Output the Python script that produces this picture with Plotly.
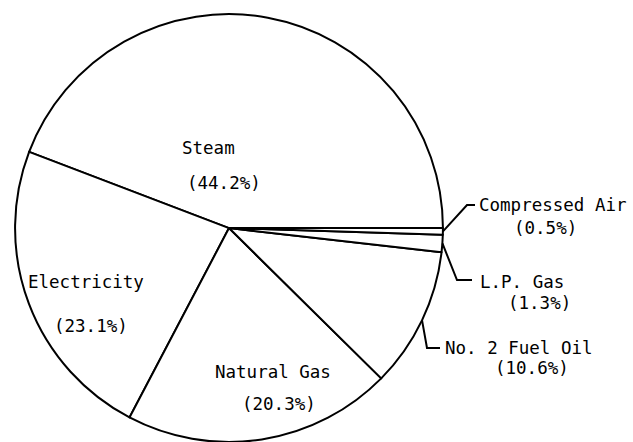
import math
import plotly.graph_objects as go

# ---- data ----
labels = ["Steam", "Electricity", "Natural Gas", "No. 2 Fuel Oil", "L.P. Gas", "Compressed Air"]
values = [44.2, 23.1, 20.3, 10.6, 1.3, 0.5]

W, H = 633, 442
FONT = dict(family="DejaVu Sans Mono", size=17.5, color="black")

total = sum(values)
# first slice (Steam) starts at 3 o'clock and runs counterclockwise
rotation = 90 - 360.0 * values[0] / total

fig = go.Figure(go.Pie(
    labels=labels,
    values=values,
    sort=False,
    direction="counterclockwise",
    rotation=rotation,
    textinfo="none",
    hoverinfo="label+percent",
    marker=dict(colors=["white"] * len(labels), line=dict(color="black", width=2)),
    domain=dict(x=[15 / W, 443 / W], y=[0, 0.968]),
    showlegend=False,
))

def px(x):
    return x / W

def py(y):
    return 1 - y / H

# label text positions (left edge, vertical centre) in pixels
label_pos = {
    "Steam": ((180, 148), (185, 183)),
    "Electricity": ((26, 282), (52, 326)),
    "Natural Gas": ((213, 372), (240, 404)),
    "Compressed Air": ((477, 205), (512, 228)),
    "L.P. Gas": ((478, 282), (506, 303)),
    "No. 2 Fuel Oil": ((443, 348), (493, 368)),
}
# leader-line knees and ends for outside labels
leaders = {
    "Compressed Air": ((467, 205), (475, 205)),
    "L.P. Gas": ((457, 280), (472, 280)),
    "No. 2 Fuel Oil": ((427, 348), (440, 348)),
}

annotations = []
for lab, val in zip(labels, values):
    (lx, ly), (vx, vy) = label_pos[lab]
    annotations.append(dict(x=px(lx), y=py(ly), xref="paper", yref="paper", text=lab,
                            showarrow=False, xanchor="left", yanchor="middle", font=FONT))
    annotations.append(dict(x=px(vx), y=py(vy), xref="paper", yref="paper", text=f"({val}%)",
                            showarrow=False, xanchor="left", yanchor="middle", font=FONT))

# leader start points derived from slice mid-angles (counterclockwise from 3 o'clock)
cx, cy, r = 229, 228, 214
cum = 0.0
shapes = []
for lab, val in zip(labels, values):
    mid = (cum + val / 2) / total * 360.0
    cum += val
    if lab in leaders:
        ang = math.radians(mid)
        sx = cx + r * math.cos(ang)
        sy = cy - r * math.sin(ang)
        (kx, ky), (ex, ey) = leaders[lab]
        path = f"M {px(sx)},{py(sy)} L {px(kx)},{py(ky)} L {px(ex)},{py(ey)}"
        shapes.append(dict(type="path", path=path, xref="paper", yref="paper",
                           line=dict(color="black", width=2)))

fig.update_layout(
    width=W, height=H,
    margin=dict(l=0, r=0, t=0, b=0),
    paper_bgcolor="white",
    plot_bgcolor="white",
    annotations=annotations,
    shapes=shapes,
)

fig.write_html("out.html", config={"displayModeBar": False},
               post_script="document.body.style.margin='0';")
